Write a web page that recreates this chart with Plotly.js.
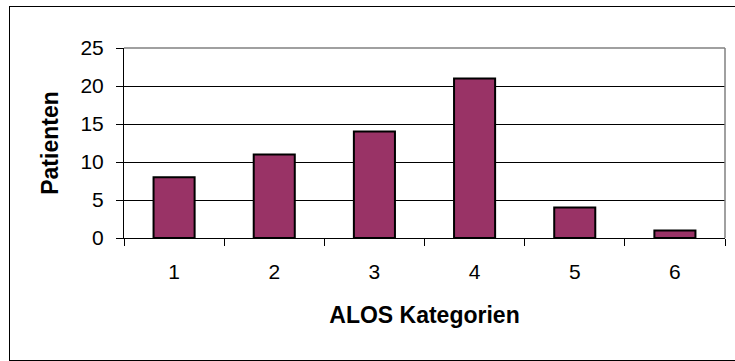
<!DOCTYPE html>
<html>
<head>
<meta charset="utf-8">
<script src="https://cdn.plot.ly/plotly-3.0.1.min.js"></script>
<style>
  html, body { margin: 0; padding: 0; background: #fff; overflow: hidden; }
  #wrap { position: relative; width: 735px; height: 361px; overflow: hidden; }
  #frame { position: absolute; left: 9px; top: 6px; width: 726px; height: 355px;
           box-sizing: border-box; border: 1px solid #000; border-right: none;
           pointer-events: none; }
  #chart { position: absolute; left: 0; top: 0; width: 735px; height: 361px; }
</style>
</head>
<body>
<div id="wrap">
  <div id="chart"></div>
  <div id="frame"></div>
</div>
<script>
// ALOS categories and patient counts
const categories = ['1', '2', '3', '4', '5', '6'];
const patients = [8, 11, 14, 21, 4, 1];
const yTicks = [0, 5, 10, 15, 20, 25];

const font = 'Liberation Sans, Arial, sans-serif';

const trace = {
  type: 'bar',
  x: categories,
  y: patients,
  marker: { color: '#993366', line: { color: '#000000', width: 2 } },
  hoverinfo: 'x+y'
};

const layout = {
  width: 735,
  height: 361,
  margin: { l: 124, r: 10, t: 48, b: 123, pad: 0 },
  paper_bgcolor: '#ffffff',
  plot_bgcolor: '#ffffff',
  showlegend: false,
  bargap: 0.59,
  font: { family: font, color: '#000' },
  xaxis: {
    type: 'category',
    tickson: 'boundaries',
    ticks: 'outside',
    ticklen: 7,
    tickcolor: '#000',
    tickwidth: 1,
    showline: true,
    linecolor: '#000',
    linewidth: 1,
    showgrid: false,
    zeroline: false,
    tickfont: { family: font, size: 21, color: '#000' },
    ticklabelstandoff: 15,
    automargin: false,
    title: { text: 'ALOS Kategorien', font: { family: font, size: 23, color: '#000', weight: 'bold' }, standoff: 24 }
  },
  yaxis: {
    range: [0, 25],
    tickvals: yTicks,
    ticktext: yTicks.map(String),
    ticks: 'outside',
    ticklen: 7,
    tickcolor: '#000',
    tickwidth: 1,
    showline: true,
    linecolor: '#000',
    linewidth: 1,
    showgrid: true,
    gridcolor: '#000',
    gridwidth: 1,
    zeroline: false,
    tickfont: { family: font, size: 21, color: '#000' },
    ticklabelstandoff: 8,
    automargin: false,
    title: { text: 'Patienten', font: { family: font, size: 23, color: '#000', weight: 'bold' }, standoff: 15 }
  },
  shapes: [
    // grey top and right edges of the plot area
    { type: 'line', xref: 'paper', yref: 'paper', x0: 0, x1: 1, y0: 1, y1: 1, line: { color: '#808080', width: 1.5 } },
    { type: 'line', xref: 'paper', yref: 'paper', x0: 1, x1: 1, y0: 0, y1: 1, line: { color: '#808080', width: 1.5 } }
  ]
};

Plotly.newPlot('chart', [trace], layout, { displayModeBar: false, staticPlot: true });
</script>
</body>
</html>
